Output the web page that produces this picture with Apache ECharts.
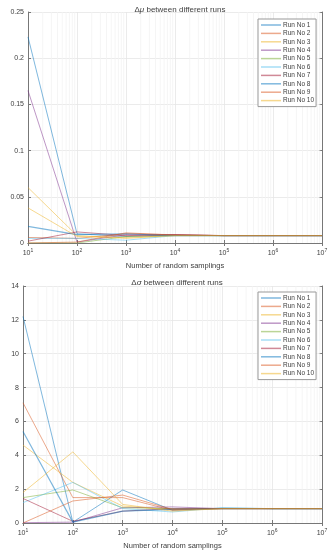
<!DOCTYPE html>
<html><head><meta charset="utf-8">
<script src="https://cdn.jsdelivr.net/npm/echarts@6/dist/echarts.min.js"></script>
<style>html,body{margin:0;padding:0;background:#fff}#c{width:331px;height:550px}</style>
</head><body><div id="c"></div>
<script>
const samplings = [1e1, 1e2, 1e3, 1e4, 1e5, 1e6, 1e7];
const runNames = ['Run No 1','Run No 2','Run No 3','Run No 4','Run No 5','Run No 6','Run No 7','Run No 8','Run No 9','Run No 10'];
// Δμ values [%]
const muRun1  = [0.223, 0.010, 0.007, 0.0085, 0.008, 0.008, 0.008];
const muRun2  = [0.006, 0.005, 0.010, 0.009, 0.008, 0.008, 0.008];
const muRun3  = [0.060, 0.008, 0.005, 0.008, 0.008, 0.008, 0.008];
const muRun4  = [0.165, 0.001, 0.009, 0.0085, 0.008, 0.008, 0.008];
const muRun5  = [0.000, 0.000, 0.007, 0.008, 0.008, 0.008, 0.008];
const muRun6  = [0.005, 0.005, 0.003, 0.008, 0.008, 0.008, 0.008];
const muRun7  = [0.002, 0.012, 0.008, 0.009, 0.008, 0.008, 0.008];
const muRun8  = [0.018, 0.009, 0.010, 0.008, 0.008, 0.008, 0.008];
const muRun9  = [0.000, 0.001, 0.011, 0.0085, 0.008, 0.008, 0.008];
const muRun10 = [0.038, 0.007, 0.006, 0.008, 0.008, 0.008, 0.008];
// Δσ values [%]
const sgRun1  = [12.2, 0.05, 1.95, 0.75, 0.88, 0.85, 0.85];
const sgRun2  = [7.1, 1.5, 1.5, 0.75, 0.85, 0.85, 0.85];
const sgRun3  = [4.6, 2.4, 1.0, 0.8, 0.85, 0.85, 0.85];
const sgRun4  = [0.02, 0.05, 0.9, 0.95, 0.85, 0.85, 0.85];
const sgRun5  = [1.5, 1.95, 0.9, 0.85, 0.85, 0.85, 0.85];
const sgRun6  = [1.2, 2.4, 0.85, 0.65, 0.9, 0.85, 0.85];
const sgRun7  = [1.45, 0.1, 0.7, 0.85, 0.85, 0.85, 0.85];
const sgRun8  = [5.4, 0.05, 0.7, 0.8, 0.85, 0.85, 0.85];
const sgRun9  = [0.0, 1.3, 1.65, 0.8, 0.85, 0.85, 0.85];
const sgRun10 = [1.8, 4.2, 1.1, 0.7, 0.85, 0.85, 0.85];

const muRuns = [muRun1,muRun2,muRun3,muRun4,muRun5,muRun6,muRun7,muRun8,muRun9,muRun10];
const sgRuns = [sgRun1,sgRun2,sgRun3,sgRun4,sgRun5,sgRun6,sgRun7,sgRun8,sgRun9,sgRun10];

const base = [[0,114,189],[217,83,25],[237,177,32],[126,47,142],[119,172,48],[77,190,238],[162,20,47]];
const colors = runNames.map((n,i)=>{const c=base[i%7];return 'rgba('+c[0]+','+c[1]+','+c[2]+',0.5)';});

const minorVals = [];
for (let e=1;e<7;e++) for (let k=2;k<=9;k++) minorVals.push(k*Math.pow(10,e));

const FF = '"Liberation Sans", Arial, Helvetica, sans-serif';
const txt = '#404040', axc = '#777';
function xAx(gi, top) {
  return {
    type:'log', logBase:10, min:10, max:1e7, gridIndex:gi, splitNumber:6,
    position: top ? 'top' : 'bottom',
    name: top ? '' : 'Number of random samplings', nameLocation:'middle', nameGap:19,
    nameTextStyle:{fontSize:7.5, color:txt, fontFamily:FF},
    axisLine:{show:true, lineStyle:{color:axc, width:1}},
    axisTick:{show:true, inside:true, length:3, lineStyle:{color:axc}},
    axisLabel:{show:!top, fontSize:7, color:txt, margin:5, fontFamily:FF,
      formatter: v => '10{s|' + Math.round(Math.log10(v)) + '}',
      rich:{s:{fontSize:5, verticalAlign:'top', padding:[0,0,5,0], color:txt, fontFamily:FF}}},
    splitLine:{show:!top, lineStyle:{color:'#e6e6e6', width:0.8}}
  };
}
function yAx(gi, right, max, interval, name, gap) {
  return {
    type:'value', min:0, max:max, interval:interval, gridIndex:gi,
    position: right ? 'right' : 'left',
    name: right ? '' : name, nameLocation:'middle', nameGap:gap,
    nameTextStyle:{fontSize:7.5, color:txt, fontFamily:FF},
    axisLine:{show:true, lineStyle:{color:axc, width:1}},
    axisTick:{show:true, inside:true, length:3, lineStyle:{color:axc}},
    axisLabel:{show:!right, fontSize:7, color:txt, margin:4, fontFamily:FF},
    splitLine:{show:!right, lineStyle:{color:'#e6e6e6', width:0.8}}
  };
}
function minorSeries(xi, yi) {
  return {
    type:'custom', xAxisIndex:xi, yAxisIndex:yi, silent:true, z:1,
    data: minorVals.map(v=>[v]),
    renderItem:(params, api)=>{
      const cs = params.coordSys;
      const p = api.coord([api.value(0), 0]);
      return {type:'line', shape:{x1:p[0], y1:cs.y, x2:p[0], y2:cs.y+cs.height},
        style:{stroke:'#f2f2f2', lineWidth:0.8}};
    }
  };
}
const series = [minorSeries(0,0), minorSeries(2,2)];
runNames.forEach((n,i)=>{
  series.push({name:n, type:'line', xAxisIndex:0, yAxisIndex:0, symbol:'none', z:3,
    color:colors[i], lineStyle:{width: i===7?1.2:1, color:colors[i]},
    data: samplings.map((s,j)=>[s, muRuns[i][j]])});
});
runNames.forEach((n,i)=>{
  series.push({name:n, type:'line', xAxisIndex:2, yAxisIndex:2, symbol:'none', z:3,
    color:colors[i], lineStyle:{width: i===7?1.2:1, color:colors[i]},
    data: samplings.map((s,j)=>[s, sgRuns[i][j]])});
});
function legend(top) {
  return {data:runNames, orient:'vertical', left:258, top:top, itemWidth:20, itemHeight:1.5,
    icon:'rect', itemGap:0.4, padding:[2,2,2,3], backgroundColor:'#fff',
    borderColor:'#999', borderWidth:1,
    textStyle:{fontSize:6.5, color:txt, lineHeight:8, fontFamily:FF, padding:[0,0,0,-3]}, selectedMode:false};
}
const chart = echarts.init(document.getElementById('c'), null, {renderer:'canvas'});
chart.setOption({
  animation:false, backgroundColor:'#fff',
  textStyle:{fontFamily:FF},
  title:[
    {text:'Δ{i|μ} between different runs', left:175, textAlign:'center', top:1,
     textStyle:{fontSize:8, fontWeight:'normal', color:txt, fontFamily:FF, rich:{i:{fontStyle:'italic', fontSize:8, color:txt, fontFamily:FF}}}},
    {text:'Δ{i|σ} between different runs', left:172, textAlign:'center', top:274,
     textStyle:{fontSize:8, fontWeight:'normal', color:txt, fontFamily:FF, rich:{i:{fontStyle:'italic', fontSize:8, color:txt, fontFamily:FF}}}}
  ],
  grid:[
    {left:28, right:9, top:12, height:231, containLabel:false, outerBoundsMode:'none'},
    {left:23, right:9, top:286, height:237, containLabel:false, outerBoundsMode:'none'}
  ],
  legend:[legend(19), legend(292)],
  xAxis:[xAx(0,false), xAx(0,true), xAx(1,false), xAx(1,true)],
  yAxis:[yAx(0,false,0.25,0.05,'Mean difference between mean values [%]',20),
         yAx(0,true,0.25,0.05,'',0),
         yAx(1,false,14,2,'Mean difference between sigma values [%]',15),
         yAx(1,true,14,2,'',0)],
  series:series
});
</script></body></html>
